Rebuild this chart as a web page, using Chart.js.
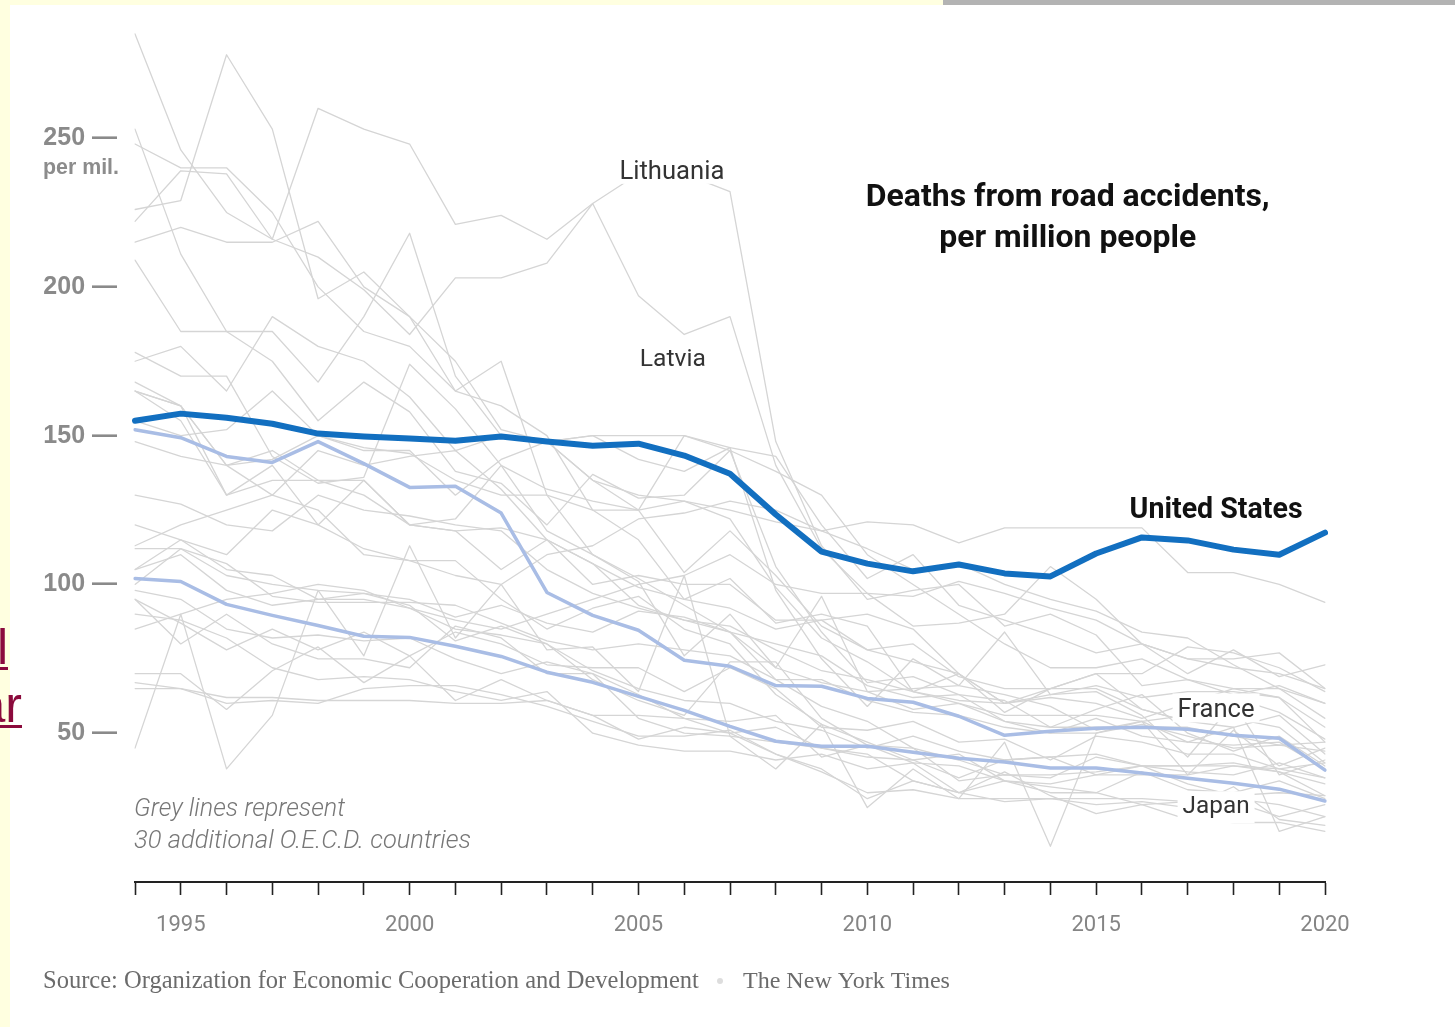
<!DOCTYPE html>
<html>
<head>
<meta charset="utf-8">
<script src="https://cdn.jsdelivr.net/npm/chart.js@4.4.1/dist/chart.umd.min.js"></script>
<style>
  html, body { margin: 0; padding: 0; background: #ffffff; }
  body { width: 1455px; height: 1027px; position: relative; overflow: hidden; }
  .stripL { position: absolute; left: 0; top: 0; width: 10px; height: 1027px; background: #ffffe0; }
  .stripT { position: absolute; left: 0; top: 0; width: 943px; height: 5px; background: #ffffe0; }
  .stripG { position: absolute; left: 943px; top: 0; width: 512px; height: 5px; background: #b3b3b3; }
  .clip { position: absolute; left: 0; overflow: hidden; }
  .clip span { position: absolute; right: 0; white-space: nowrap; font-family: "Liberation Sans", Arial, sans-serif;
               font-size: 50px; line-height: 50px; color: #8b0a3c; text-decoration: underline; }
  #wrap { position: absolute; left: 0; top: 0; width: 1455px; height: 1027px; }
</style>
</head>
<body>
<div class="stripL"></div>
<div class="stripT"></div>
<div class="stripG"></div>
<div class="clip" style="top:622px;width:8px;height:48px;"><span style="top:0px;">al</span></div>
<div class="clip" style="top:680px;width:22px;height:48px;"><span style="top:0px;">ar</span></div>
<div id="wrap"><canvas id="c" width="1455" height="1027"></canvas></div>
<script>
// ---------------- DATA ----------------
const years = [1994,1995,1996,1997,1998,1999,2000,2001,2002,2003,2004,2005,2006,2007,2008,2009,2010,2011,2012,2013,2014,2015,2016,2017,2018,2019,2020];
const yTickValues = [50, 100, 150, 200, 250];

const unitedStates = [155,157.4,156,154,150.7,149.7,149,148.3,149.7,148,146.6,147.3,143.3,137.2,123.5,111,107,104.4,106.7,103.7,102.7,110.4,115.8,114.8,111.7,110,117.4];
const france       = [152,149.3,143,141,148,140.6,132.6,133,124,97.3,89.6,84.6,74.5,72.5,66,65.8,61.7,60.4,55.7,49.3,50.7,51.7,52,51.3,49.3,48.3,37.6];
const japan        = [102,101,93.3,89.6,86.2,82.6,82.2,79.2,75.8,70.5,67.1,62.4,57.7,52.3,47.3,45.6,45.6,43.6,41.6,40.3,38.3,38.3,36.6,34.9,33.2,31.2,27.2];

// grey lines: 30 additional O.E.C.D. countries (values read approximately)
const lithuania   = [222,239,238,216,260,253,248,221,224,216,228,238,238,232,148,113,95,98,100,86,90,83,66,68,63,66,60];
const latvia      = [285,246,225,216,210,199,184,203,203,208,228,197,184,190,140,112,97,86,87,90,106,95,80,70,78,69,73];
const korea       = [253,211,185,185,168,190,218,170,150,148,135,130,128,125,121,118,112,105,107,100,95,91,84,82,73,65,60];
const portugal    = [248,240,240,225,200,185,180,165,160,150,125,115,95,92,85,88,90,85,70,60,62,60,55,60,65,62,52];
const greece      = [215,220,215,215,222,200,190,175,152,148,150,150,150,145,138,130,110,100,90,80,72,72,75,68,65,65,55];
const poland      = [175,180,165,190,180,175,163,145,150,148,150,142,138,146,143,120,102,110,93,88,83,77,80,75,75,77,65];
const hungary     = [165,160,130,135,135,130,120,122,140,132,128,125,128,122,99,82,74,64,61,60,63,66,62,64,64,62,47];
const czechia     = [155,150,152,165,150,145,145,130,142,148,135,125,104,118,103,86,78,74,70,60,65,70,58,54,62,57,48];
const slovenia    = [209,185,185,175,155,168,158,138,134,120,137,129,130,145,106,84,67,69,63,61,52,58,63,50,44,49,39];
const estonia     = [226,229,278,253,196,205,190,165,175,130,125,125,150,146,98,75,59,75,66,63,59,51,54,36,51,39,45];
const newZealand  = [165,160,140,145,135,135,120,118,105,115,107,99,95,102,87,90,86,64,70,57,65,70,70,79,77,72,64];
const belgium     = [168,160,140,130,145,140,143,145,132,115,100,103,100,100,88,88,78,80,69,65,65,65,58,54,52,56,43];
const austria     = [165,155,130,140,120,135,120,118,119,115,107,93,88,84,80,76,66,62,63,54,50,55,49,47,46,47,38];
const spain       = [148,143,140,142,150,146,144,135,130,130,110,102,93,84,68,59,54,45,41,36,36,37,39,39,39,37,29];
const ireland     = [113,120,125,130,125,110,108,108,95,85,92,96,85,80,63,53,47,41,35,41,42,36,39,33,29,30,29];
const italy       = [130,127,120,118,130,125,123,120,118,105,97,92,88,86,78,71,68,64,60,56,56,56,54,56,55,52,40];
const germany     = [120,115,105,103,95,95,92,85,83,80,71,65,61,60,54,51,45,49,44,41,42,43,39,39,40,37,33];
const canada      = [112,112,103,100,98,97,95,89,93,87,84,91,89,84,72,67,64,58,60,54,52,52,52,52,49,46,47];
const australia   = [100,112,107,96,94,94,94,93,87,81,78,80,78,76,68,68,61,57,56,52,50,50,53,49,45,46,44];
const finland     = [95,87,78,85,78,84,76,84,80,73,72,72,64,72,65,52,51,54,47,48,41,49,47,43,43,38,40];
const denmark     = [105,110,98,93,95,97,93,81,86,80,68,61,56,74,74,55,46,40,30,34,32,30,37,31,30,34,28];
const unitedKingdom = [65,65,62,62,61,61,61,60,60,61,56,56,55,50,43,37,30,31,28,28,28,28,28,27,28,26,22];
const sweden      = [67,65,60,61,60,65,66,66,63,59,54,49,49,51,43,38,28,34,30,27,28,26,27,25,32,21,19];
const netherlands = [90,88,82,72,68,69,68,64,61,64,50,46,44,44,41,43,38,40,39,34,33,36,36,36,39,38,35];
const switzerland = [98,95,85,82,83,81,82,75,70,74,70,55,50,49,47,45,42,41,43,34,30,30,26,27,27,22,26];
const norway      = [70,70,58,71,79,67,76,61,68,61,56,48,52,50,52,45,43,34,30,37,29,23,26,21,20,20,17];
const israel      = [95,80,90,80,75,75,72,86,82,70,70,63,55,54,56,42,46,45,34,36,35,42,39,37,36,40,35];
const iceland     = [45,90,38,56,98,76,113,82,100,78,79,64,103,49,38,53,25,38,28,47,12,50,54,47,52,17,22];
const luxembourg  = [178,170,170,143,134,136,174,159,140,118,110,101,76,90,72,96,64,65,66,84,63,64,56,42,60,36,41];
const chile       = [105,115,110,125,120,112,108,103,100,110,113,122,124,128,125,118,121,120,114,119,119,119,119,104,104,100,94];
const turkey      = [85,90,95,97,100,98,92,88,85,90,95,100,103,110,100,97,97,96,101,97,92,88,80,75,72,70,65];

const greySeries = [lithuania, latvia, korea, portugal, greece, poland, hungary, czechia, slovenia, estonia,
  newZealand, belgium, austria, spain, ireland, italy, germany, canada, australia, finland, denmark,
  unitedKingdom, sweden, netherlands, switzerland, norway, israel, iceland, luxembourg, chile, turkey];

// ---------------- STYLE ----------------
const GREY = '#d5d5d5';
const LIGHT_BLUE = '#a9bde5';
const US_BLUE = '#126fc0';

const datasets = [];
datasets.push({ data: unitedStates, borderColor: US_BLUE, borderWidth: 6, order: 0 });
datasets.push({ data: france, borderColor: LIGHT_BLUE, borderWidth: 3.5, order: 1 });
datasets.push({ data: japan, borderColor: LIGHT_BLUE, borderWidth: 3.5, order: 1 });
greySeries.forEach(s => datasets.push({ data: s, borderColor: GREY, borderWidth: 1.3, order: 2 }));
datasets.forEach(d => { d.pointRadius = 0; d.tension = 0; d.fill = false; d.borderJoinStyle = 'round'; d.borderCapStyle = 'round'; });

function fitFont(ctx, text, style, weight, family, targetW) {
  ctx.font = `${style} ${weight} 100px ${family}`;
  const w = ctx.measureText(text).width;
  return `${style} ${weight} ${(100 * targetW / w).toFixed(2)}px ${family}`;
}

const annotations = {
  id: 'annotations',
  afterDraw(chart) {
    const ctx = chart.ctx;
    const xs = chart.scales.x, ys = chart.scales.y;
    const px = yr => xs.getPixelForValue(yr - years[0]);
    const py = v => ys.getPixelForValue(v);
    ctx.save();
    ctx.textBaseline = 'alphabetic';

    function label(text, cx, base, style, weight, family, w, color, align, bg) {
      ctx.font = fitFont(ctx, text, style, weight, family, w);
      ctx.textAlign = align;
      if (bg) {
        const m = ctx.measureText(text);
        const left = align === 'center' ? cx - m.width / 2 : cx;
        ctx.fillStyle = '#ffffff';
        ctx.fillRect(left - 5, base - m.actualBoundingBoxAscent - 5, m.width + 10, m.actualBoundingBoxAscent + m.actualBoundingBoxDescent + 10);
      }
      ctx.fillStyle = color;
      ctx.fillText(text, cx, base);
    }
    const sans = '"Roboto", "Liberation Sans", sans-serif';
    label('Deaths from road accidents,', px(2014.38), py(227.2), 'normal', 700, sans, 404, '#111111', 'center', false);
    label('per million people', px(2014.38), py(213.5), 'normal', 700, sans, 257, '#111111', 'center', false);
    label('United States', px(2017.62), py(122.3), 'normal', 700, sans, 173, '#111111', 'center', true);
    label('France', px(2017.62), py(55.3), 'normal', 400, sans, 77, '#333333', 'center', true);
    label('Japan', px(2017.62), py(23.1), 'normal', 400, sans, 67, '#333333', 'center', true);
    label('Lithuania', px(2005.73), py(236.3), 'normal', 400, sans, 105, '#333333', 'center', true);
    label('Latvia', px(2005.75), py(173.3), 'normal', 400, sans, 66, '#333333', 'center', true);
    label('Grey lines represent', px(1993.98), py(22.1), 'italic', 300, sans, 211, '#777777', 'left', false);
    label('30 additional O.E.C.D. countries', px(1993.98), py(11.4), 'italic', 300, sans, 337, '#777777', 'left', false);

    // "per mil." under the top y tick
    label('per mil.', 43, py(237.9), 'normal', 700, '"Liberation Sans", Arial, sans-serif', 76, '#8c8c8c', 'left', false);

    // source line
    const serif = '"Liberation Serif", "DejaVu Serif", serif';
    const srcBase = chart.height - 39;
    label('Source: Organization for Economic Cooperation and Development', 43, srcBase, 'normal', 400, serif, 656, '#6b6b6b', 'left', false);
    ctx.fillStyle = '#dddddd';
    ctx.beginPath(); ctx.arc(720, srcBase - 7, 3, 0, Math.PI * 2); ctx.fill();
    label('The New York Times', 743, srcBase, 'normal', 400, serif, 207, '#6b6b6b', 'left', false);
    ctx.restore();
  }
};

new Chart(document.getElementById('c'), {
  type: 'line',
  data: { labels: years.map(String), datasets },
  options: {
    responsive: false,
    animation: false,
    devicePixelRatio: 1,
    layout: { padding: { left: 35, right: 130, top: 0, bottom: 85 } },
    plugins: { legend: { display: false }, tooltip: { enabled: false } },
    scales: {
      x: {
        type: 'category',
        offset: false,
        grid: { display: true, drawOnChartArea: false, drawTicks: true, tickLength: 13, tickWidth: 1.6, tickColor: '#222222', offset: false },
        border: { display: true, color: '#222222', width: 2 },
        ticks: {
          autoSkip: false, maxRotation: 0, minRotation: 0, padding: 17,
          color: '#858585', font: { family: '"Roboto", sans-serif', size: 22, weight: 400 },
          callback: function (val) { const y = years[val]; return y % 5 === 0 ? String(y) : ''; }
        },
        afterFit: s => { s.height = 60; }
      },
      y: {
        type: 'linear', min: 0, max: 288,
        grid: { display: false },
        border: { display: false },
        afterBuildTicks: s => { s.ticks = yTickValues.map(v => ({ value: v })); },
        ticks: {
          padding: 10, color: '#8a8a8a',
          font: { family: '"Liberation Sans", Arial, sans-serif', size: 25, weight: 700 },
          callback: v => v + ' \u2014'
        },
        afterFit: s => { s.width = 100; }
      }
    }
  },
  plugins: [annotations]
});
</script>
</body>
</html>
